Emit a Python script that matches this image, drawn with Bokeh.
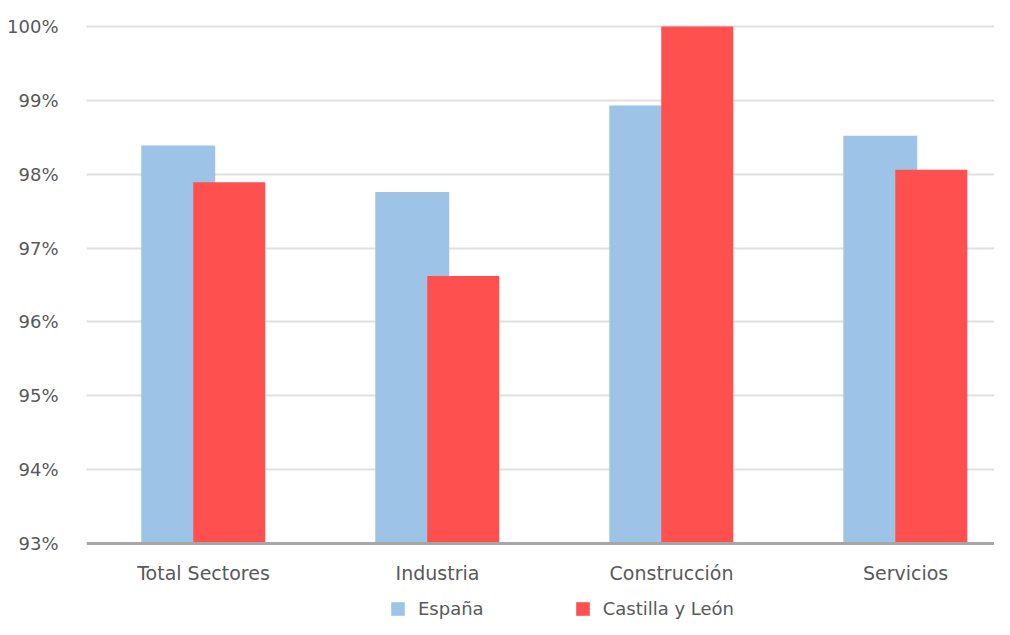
from bokeh.plotting import figure
from bokeh.models import (ColumnDataSource, Range1d, FixedTicker, Legend, LegendItem,
                          CustomJSTickFormatter, Span)
from bokeh.embed import file_html
from bokeh.resources import INLINE

categories = ["Total Sectores", "Industria", "Construcción", "Servicios"]
espana = [98.39, 97.76, 98.93, 98.52]
castilla_leon = [97.89, 96.62, 100.0, 98.06]
y_ticks = [93, 94, 95, 96, 97, 98, 99, 100]
baseline = 93

BLUE = "#9DC3E6"
RED = "#FF5050"
TEXT = "#595959"
FONT = "DejaVu Sans"
FS = "18px"

centers = [i + 0.5 for i in range(len(categories))]
src = ColumnDataSource(dict(
    x_es=[c - 0.108 for c in centers],
    x_cl=[c + 0.11 for c in centers],
    espana=espana,
    cyl=castilla_leon,
))
lab_src = ColumnDataSource(dict(x=centers, y=[baseline] * len(categories), text=categories))

p = figure(width=994, height=619, output_backend="svg", toolbar_location=None,
           x_range=Range1d(0, 3.88), y_range=Range1d(91.97, 100.352),
           min_border_left=86, min_border_right=0, min_border_top=0,
           min_border_bottom=0)
p.outline_line_color = None
p.background_fill_color = "white"
p.border_fill_color = "white"

r_es = p.vbar(x="x_es", top="espana", bottom=baseline, width=0.316, source=src,
              fill_color=BLUE, line_color=None)
r_cl = p.vbar(x="x_cl", top="cyl", bottom=baseline, width=0.308, source=src,
              fill_color=RED, line_color=None)

# category axis: baseline line + category labels
p.xaxis.visible = False
p.xgrid.grid_line_color = None
p.add_layout(Span(location=baseline, dimension="width", line_color="#A6A6A6",
                  line_width=3))
p.text(x="x", y="y", text="text", source=lab_src, y_offset=30,
       text_align="center", text_baseline="middle",
       text_font={"value": FONT}, text_font_size={"value": "19px"},
       text_color=TEXT)

# y axis
p.yaxis.ticker = FixedTicker(ticks=y_ticks)
p.yaxis.formatter = CustomJSTickFormatter(code="return tick.toFixed(0) + '%';")
p.yaxis.axis_line_color = None
p.yaxis.major_tick_line_color = None
p.yaxis.minor_tick_line_color = None
p.yaxis.major_label_standoff = 22
p.yaxis.major_label_text_font = FONT
p.yaxis.major_label_text_font_size = FS
p.yaxis.major_label_text_color = TEXT
p.ygrid.ticker = FixedTicker(ticks=y_ticks)
p.ygrid.grid_line_color = "#E0E0E0"
p.ygrid.grid_line_width = 2

legend = Legend(items=[LegendItem(label="España", renderers=[r_es]),
                       LegendItem(label="Castilla y León", renderers=[r_cl])],
                location=(303, 0), orientation="horizontal",
                glyph_width=17, glyph_height=17, label_standoff=12, spacing=90,
                padding=0, margin=0, border_line_color=None,
                background_fill_alpha=0,
                label_text_font=FONT, label_text_font_size=FS,
                label_text_color=TEXT)
p.add_layout(legend, "center")

open("out.html", "w").write(file_html(p, INLINE))
